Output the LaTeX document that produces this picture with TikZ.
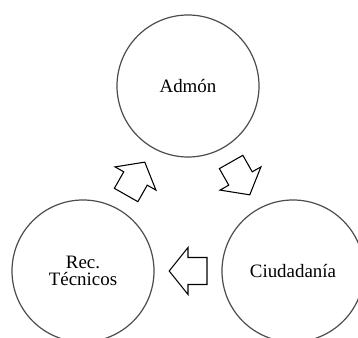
\documentclass[tikz,border=0pt]{standalone}
\usepackage{fontspec}
\setmainfont{Liberation Serif}
\usetikzlibrary{calc}

\tikzset{
  stage/.style={circle, draw=black!70, line width=0.9pt, minimum size=106.5pt,
    inner sep=0pt, align=center, font=\fontsize{14.2}{13}\selectfont},
  cyclearrow/.pic={
    \draw[line width=0.8pt, line join=miter]
      (-19,13.5) -- (0,13.5) -- (0,23.5) -- (18.8,0) -- (0,-23.5)
      -- (0,-13.5) -- (-19,-13.5) -- cycle;
  }
}

\begin{document}
\begin{tikzpicture}[x=0.75pt, y=0.75pt]
  \useasboundingbox (0,0) rectangle (358,338);
  \clip (0,0) rectangle (358,338);

  % the three stages of the cycle
  \node[stage] (admon) at (188,252) {Admón};
  \node[stage] (ciud)  at (293,67)  {Ciudadanía};
  \node[stage] (rec)   at (83,67)   {Rec.\\Técnicos};

  % block arrows between the stages
  \pic[rotate=-60.4] at ($(admon)!0.5!(ciud)$) {cyclearrow};
  \pic[rotate=180]   at ($(ciud)!0.5!(rec)$)   {cyclearrow};
  \pic[rotate=60.4]  at ($(rec)!0.5!(admon)$)  {cyclearrow};
\end{tikzpicture}
\end{document}
